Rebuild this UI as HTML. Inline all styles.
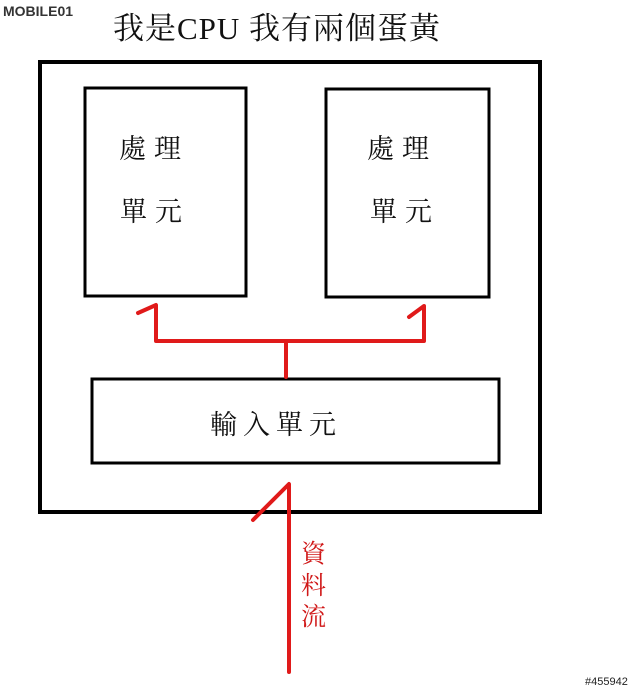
<!DOCTYPE html>
<html><head><meta charset="utf-8"><style>
html,body{margin:0;padding:0;background:#fff;width:640px;height:689px;overflow:hidden}
svg text{font-family:"Liberation Serif","Noto Serif CJK SC",serif}
</style></head><body>
<svg width="640" height="689" viewBox="0 0 640 689" xmlns="http://www.w3.org/2000/svg">
<text x="3" y="16" font-size="14" font-weight="bold" fill="#333" style="font-family:'Liberation Sans',sans-serif">MOBILE01</text>
<text x="113" y="39" font-size="31" fill="#111" letter-spacing="1">我是CPU 我有兩個蛋黃</text>
<rect x="40" y="62" width="500" height="450" fill="none" stroke="#000" stroke-width="4"/>
<rect x="85" y="88" width="161" height="208" fill="none" stroke="#000" stroke-width="3"/>
<rect x="326" y="89" width="163" height="208" fill="none" stroke="#000" stroke-width="3"/>
<rect x="92" y="379" width="407" height="84" fill="none" stroke="#000" stroke-width="3"/>
<g font-size="27" fill="#111" letter-spacing="8">
<text x="119" y="158">處理</text>
<text x="120" y="221">單元</text>
<text x="367" y="158">處理</text>
<text x="370" y="221">單元</text>
<text x="210" y="434" letter-spacing="6">輸入單元</text>
</g>
<g stroke="#e01a1a" stroke-width="4" fill="none" stroke-linecap="round" stroke-linejoin="round">
<polyline points="138,313 156,305 156,341 424,341 424,306 409,317"/>
<line x1="286" y1="341" x2="286" y2="377"/>
<polyline points="253,520 289,484 289,672"/>
</g>
<g font-size="25" fill="#d01818">
<text x="301" y="562">資</text>
<text x="301" y="594">料</text>
<text x="301" y="625">流</text>
</g>
<text x="585" y="685" font-size="11" fill="#222" style="font-family:'Liberation Sans',sans-serif">#455942</text>
</svg>
</body></html>
